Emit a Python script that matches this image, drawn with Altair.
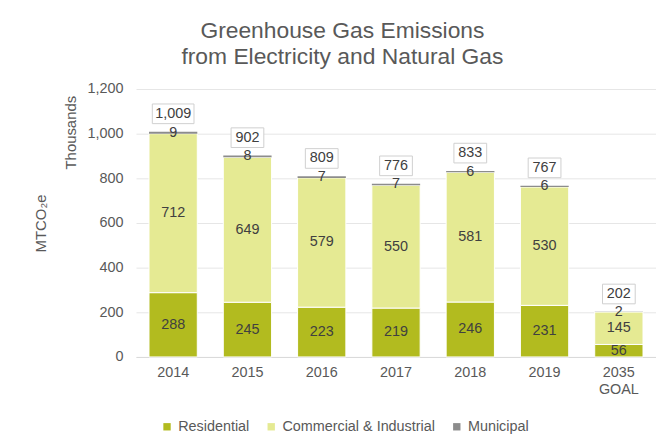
import altair as alt
import pandas as pd

years = ["2014", "2015", "2016", "2017", "2018", "2019", "2035 GOAL"]
residential = [288, 245, 223, 219, 246, 231, 56]
commercial = [712, 649, 579, 550, 581, 530, 145]
municipal = [9, 8, 7, 7, 6, 6, 2]
totals = [1009, 902, 809, 776, 833, 767, 202]
series = ["Residential", "Commercial & Industrial", "Municipal"]
colors = ["#b2bb1f", "#e5ea93", "#8c8c8c"]

rows = []
for i, yr in enumerate(years):
    base = 0
    for k, (name, vals) in enumerate(zip(series, [residential, commercial, municipal])):
        v = vals[i]
        rows.append({"year": yr, "series": name, "idx": k, "value": v,
                     "y0": base, "y1": base + v, "mid": base + v / 2})
        base += v
df = pd.DataFrame(rows)
tot = pd.DataFrame({"year": years, "total": totals,
                    "label": [f"{t:,}" for t in totals]})

FONT = "Liberation Sans"
xenc = alt.X("year:N", sort=years,
             scale=alt.Scale(paddingInner=0.35, paddingOuter=0.175),
             axis=alt.Axis(title=None, labelAngle=0, ticks=False,
                           domainColor="#d9d9d9", labelPadding=9,
                           labelFontSize=14.5, labelColor="#595959",
                           labelLineHeight=17,
                           labelExpr="split(datum.label, ' ')"))
yscale = alt.Scale(domain=[0, 1200], nice=False)

bars = alt.Chart(df).mark_bar(stroke="white").encode(
    x=xenc,
    y=alt.Y("y0:Q", scale=yscale,
            axis=alt.Axis(values=[0, 200, 400, 600, 800, 1000, 1200], format=",.0f",
                          domain=False, ticks=False, gridColor="#e6e6e6",
                          labelPadding=13, labelFontSize=14.5, labelColor="#595959",
                          title="MTCO₂e", titleFontSize=15, titleFontWeight="normal",
                          titleColor="#595959", titleAngle=270, titleX=-96, titleY=135,
                          titleAlign="center", titleBaseline="middle")),
    y2="y1:Q",
    color=alt.Color("series:N", scale=alt.Scale(domain=series, range=colors),
                    legend=alt.Legend(title=None, orient="none", direction="horizontal",
                                      legendX=24, legendY=333, symbolType="square",
                                      symbolSize=55, symbolStrokeWidth=0,
                                      labelFontSize=14.5, labelColor="#595959",
                                      labelOffset=4, columnPadding=14)),
    strokeWidth=alt.condition(alt.datum.series == "Municipal", alt.value(0), alt.value(1)),
    order=alt.Order("idx:Q", sort="ascending"),
)

seg_text = alt.Chart(df).mark_text(fontSize=14.5, color="#404040", baseline="middle").encode(
    x=alt.X("year:N", sort=years),
    y=alt.Y("mid:Q", scale=yscale),
    text=alt.Text("value:Q"),
)

box_big = alt.Chart(tot).transform_filter("datum.total >= 1000").transform_calculate(
    b0="datum.total + 36", b1="datum.total + 124").mark_bar(
    width=42, fill="white", stroke="#d0d0d0", strokeWidth=1).encode(
    x=alt.X("year:N", sort=years), y=alt.Y("b0:Q", scale=yscale), y2="b1:Q")
box_small = alt.Chart(tot).transform_filter("datum.total < 1000").transform_calculate(
    b0="datum.total + 36", b1="datum.total + 124").mark_bar(
    width=33, fill="white", stroke="#d0d0d0", strokeWidth=1).encode(
    x=alt.X("year:N", sort=years), y=alt.Y("b0:Q", scale=yscale), y2="b1:Q")
tot_text = alt.Chart(tot).transform_calculate(ty="datum.total + 80").mark_text(
    fontSize=14.5, color="#404040", baseline="middle").encode(
    x=alt.X("year:N", sort=years), y=alt.Y("ty:Q", scale=yscale), text="label:N")

thousands = alt.Chart(alt.Data(values=[{"t": "Thousands"}])).mark_text(
    angle=270, fontSize=15, color="#595959", baseline="middle", align="center").encode(
    x=alt.value(-65), y=alt.value(44), text="t:N")

chart = alt.layer(bars, seg_text, box_big, box_small, tot_text, thousands).properties(
    width=524, height=270,
    autosize=alt.AutoSizeParams(type="none"),
    padding={"left": 129, "top": 80, "right": 0, "bottom": 76},
    title=alt.TitleParams(["Greenhouse Gas Emissions", "from Electricity and Natural Gas"],
                          font=FONT, fontSize=23, fontWeight="normal", color="#595959",
                          anchor="middle", dx=-54, lineHeight=26, offset=12),
).configure(font=FONT).configure_view(stroke=None)

chart.save("out.html", embed_options={"renderer": "svg", "actions": False})
